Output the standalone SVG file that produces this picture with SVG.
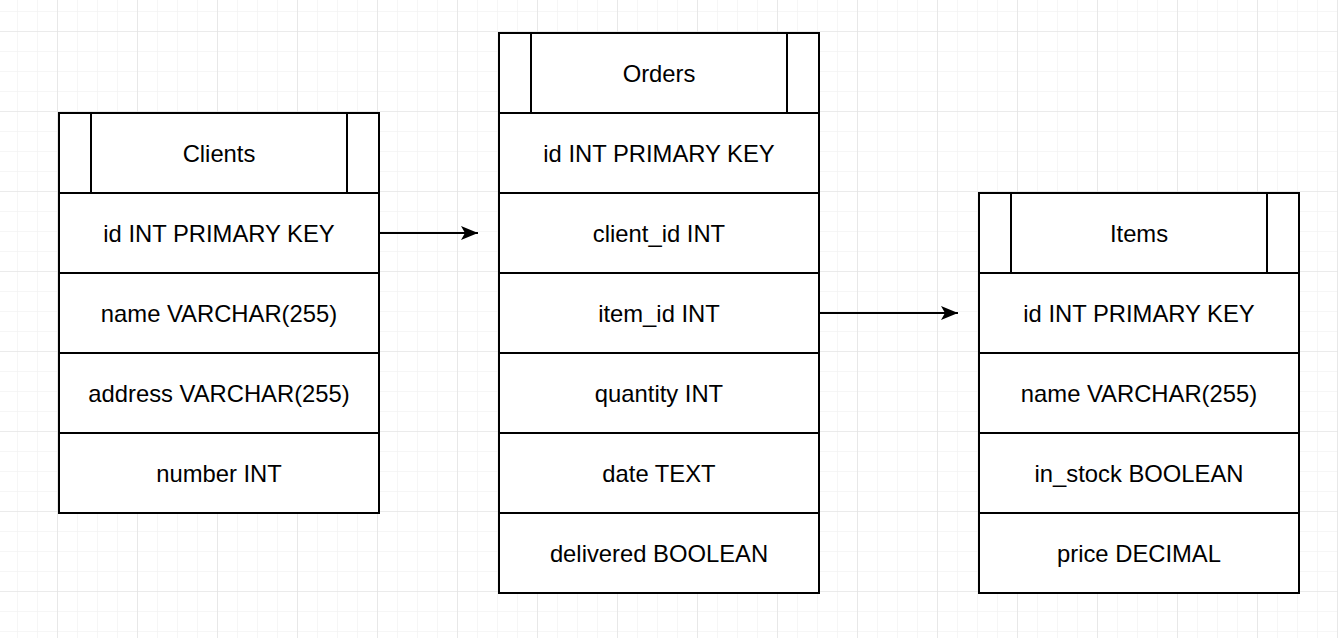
<svg xmlns="http://www.w3.org/2000/svg" width="1338" height="638" viewBox="0 0 1338 638">
<defs>
<pattern id="minor" x="-2" y="-8" width="20" height="20" patternUnits="userSpaceOnUse">
<path d="M20 0V20M0 20H20" fill="none" stroke="#f3f3f3" stroke-width="1.5"/>
</pattern>
<pattern id="major" x="-22" y="-48" width="80" height="80" patternUnits="userSpaceOnUse">
<path d="M80 0V80M0 80H80" fill="none" stroke="#e0e0e0" stroke-width="1.2"/>
</pattern>
<marker id="arr" markerWidth="20" markerHeight="14" refX="17" refY="7" orient="auto" markerUnits="userSpaceOnUse">
<path d="M0 0L17 7L0 14L4 7Z" fill="#000"/>
</marker>
<style>
.box{fill:#fff;stroke:#000;stroke-width:2}
.ln{stroke:#000;stroke-width:2;fill:none}
text{font-family:"Liberation Sans",Arial,sans-serif;font-size:23.8px;fill:#000;text-anchor:middle;dominant-baseline:central}
.conn{stroke:#000;stroke-width:2;fill:none}
</style>
</defs>
<rect width="1338" height="638" fill="#fff"/>
<rect width="1338" height="638" fill="url(#minor)"/>
<rect width="1338" height="638" fill="url(#major)"/>

<g id="clients">
<rect class="box" x="59" y="113" width="320" height="400"/>
<path class="ln" d="M91 113V193M347 113V193M59 193H379M59 273H379M59 353H379M59 433H379"/>
<text x="219" y="153">Clients</text>
<text x="219" y="233">id INT PRIMARY KEY</text>
<text x="219" y="313">name VARCHAR(255)</text>
<text x="219" y="393">address VARCHAR(255)</text>
<text x="219" y="473">number INT</text>
</g>

<g id="orders">
<rect class="box" x="499" y="33" width="320" height="560"/>
<path class="ln" d="M531 33V113M787 33V113M499 113H819M499 193H819M499 273H819M499 353H819M499 433H819M499 513H819"/>
<text x="659" y="73">Orders</text>
<text x="659" y="153">id INT PRIMARY KEY</text>
<text x="659" y="233">client_id INT</text>
<text x="659" y="313">item_id INT</text>
<text x="659" y="393">quantity INT</text>
<text x="659" y="473">date TEXT</text>
<text x="659" y="553">delivered BOOLEAN</text>
</g>

<g id="items">
<rect class="box" x="979" y="193" width="320" height="400"/>
<path class="ln" d="M1011 193V273M1267 193V273M979 273H1299M979 353H1299M979 433H1299M979 513H1299"/>
<text x="1139" y="233">Items</text>
<text x="1139" y="313">id INT PRIMARY KEY</text>
<text x="1139" y="393">name VARCHAR(255)</text>
<text x="1139" y="473">in_stock BOOLEAN</text>
<text x="1139" y="553">price DECIMAL</text>
</g>

<g id="connectors">
<path class="conn" d="M379 233H478" marker-end="url(#arr)"/>
<path class="conn" d="M819 313H958" marker-end="url(#arr)"/>
</g>
</svg>
